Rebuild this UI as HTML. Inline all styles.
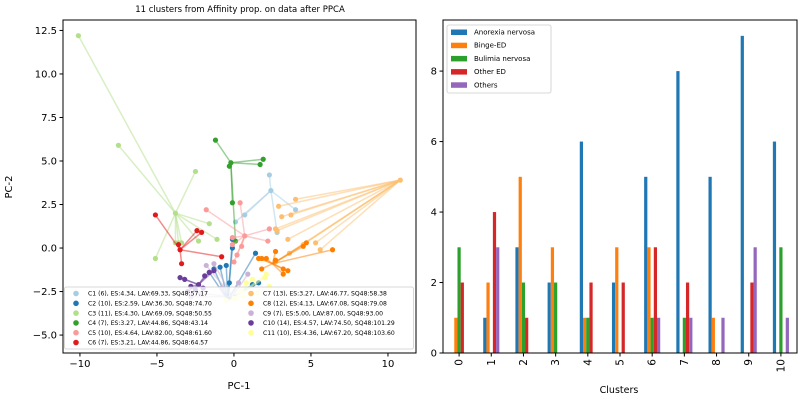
<!DOCTYPE html>
<html><head><meta charset="utf-8"><style>
body{margin:0;background:#fff;font-family:"Liberation Sans","DejaVu Sans",sans-serif}
svg text{font-family:"DejaVu Sans","Liberation Sans",sans-serif}
</style></head><body>
<svg id="s" width="800" height="400" xmlns="http://www.w3.org/2000/svg"></svg>
<script>
const clusterColors=["#a6cee3","#1f78b4","#b2df8a","#33a02c","#fb9a99","#e31a1c","#fdbf6f","#ff7f00","#cab2d6","#6a3d9a","#ffff99"];
const clusterLabels=["C1 (6), ES:4.34, LAV:69.33, SQ48:57.17","C2 (10), ES:2.59, LAV:36.30, SQ48:74.70","C3 (11), ES:4.30, LAV:69.09, SQ48:50.55","C4 (7), ES:3.27, LAV:44.86, SQ48:43.14","C5 (10), ES:4.64, LAV:82.00, SQ48:61.60","C6 (7), ES:3.21, LAV:44.86, SQ48:64.57","C7 (13), ES:3.27, LAV:46.77, SQ48:58.38","C8 (12), ES:4.13, LAV:67.08, SQ48:79.08","C9 (7), ES:5.00, LAV:87.00, SQ48:93.00","C10 (14), ES:4.57, LAV:74.50, SQ48:101.29","C11 (10), ES:4.36, LAV:67.20, SQ48:103.60"];
const centers=[[2.4,3.3],[-0.4,-3.0],[-3.8,2.0],[-0.2,4.9],[0.7,0.7],[-3.5,-0.1],[10.8,3.9],[2.5,-0.9],[-0.1,-2.8],[-2.3,-2.1],[0,-2.9]];
const clusterPoints=[
[[2.3,4.2],[4.0,2.2],[2.8,0.9],[0.7,1.9],[0.1,1.5],[2.4,3.3]],
[[-0.1,0.5],[-0.1,0],[1.4,-0.3],[-0.9,-1.1],[-1.3,-1.2],[-0.5,-1.0],[1.6,-2.0],[1.2,-2.1],[-1.6,-1.4],[-0.3,-2.0]],
[[-10.1,12.2],[-7.5,5.9],[-2.5,4.4],[-1.6,1.4],[-1.1,0.5],[-5.1,-0.6],[-2.3,0.4],[-3.8,0.3],[-3.4,0.3],[-3.6,0.3],[-3.8,2.0]],
[[-1.2,6.2],[1.9,5.1],[1.7,4.8],[-0.3,4.7],[-0.1,2.6],[0.1,0.4],[-0.2,4.9]],
[[-1.8,2.2],[0.4,2.6],[2.3,1.1],[2.2,0.4],[-0.1,0.2],[0.5,0.1],[0.2,-0.4],[0,-0.8],[-0.1,0.6],[0.7,0.7]],
[[-5.1,1.9],[-2.4,1.0],[-2.1,0.9],[-0.8,-0.5],[-3.4,-0.9],[-3.6,0.2],[-3.5,-0.1]],
[[4.0,2.8],[2.9,2.4],[3.7,1.9],[3.1,1.8],[2.8,1.0],[2.7,1.1],[3.5,0.5],[4.5,0.2],[5.3,0.3],[5.6,-0.1],[3.6,-0.3],[2.7,-0.8],[10.8,3.9]],
[[6.4,-0.1],[4.7,0.3],[4.5,0.1],[2.7,-0.2],[1.6,-0.6],[1.8,-0.6],[2.1,-0.6],[2.7,-0.7],[1.8,-1.2],[3.2,-1.2],[3.5,-1.3],[3.2,-1.5]],
[[-1.8,-1.0],[-1.3,-0.9],[0.9,-1.5],[-2.2,-2.6],[0.3,-2.0],[-0.8,-2.3],[-2.8,-2.8]],
[[-3.5,-1.7],[-3.2,-1.8],[-2.8,-2.2],[-1.6,-1.4],[-1.3,-1.3],[-2.0,-2.3],[-2.5,-2.4],[-3.0,-2.5],[-1.9,-1.6],[-2.3,-2.1]],
[[1.2,-1.8],[2.1,-1.5],[2.3,-2.2],[0.5,-2.5],[1.0,-3.2],[-0.5,-3.0],[1.5,-2.6],[0.8,-2.0],[2.0,-1.7],[0,-2.9]]];
const xTicks=[-10,-5,0,5,10];
const yTicks=[-5,-2.5,0,2.5,5,7.5,10,12.5];
const yTickLabels=["−5.0","−2.5","0.0","2.5","5.0","7.5","10.0","12.5"];
const categories=["0","1","2","3","4","5","6","7","8","9","10"];
const seriesNames=["Anorexia nervosa","Binge-ED","Bulimia nervosa","Other ED","Others"];
const seriesColors=["#1f77b4","#ff7f0e","#2ca02c","#d62728","#9467bd"];
const anorexia=[0,1,3,2,6,2,5,8,5,9,6];
const binge=[1,2,5,3,1,3,3,0,1,0,0];
const bulimia=[3,0,2,2,1,0,1,1,0,0,3];
const otherED=[2,4,1,0,2,2,3,2,0,2,0];
const others=[0,3,0,0,0,0,1,1,1,3,1];
const barTicks=[0,2,4,6,8];

const S=document.getElementById('s');const NS="http://www.w3.org/2000/svg";
function mk(t,a,p){const e=document.createElementNS(NS,t);for(const k in a)e.setAttribute(k,a[k]);(p||S).appendChild(e);return e;}
function tx(x,y,s,o){const e=mk('text',Object.assign({x:x,y:y,'font-size':10,fill:'#000'},o||{}));e.textContent=s;return e;}
// left axes
const L={x0:63,x1:416,y0:20,y1:353,xmin:-11.1,xmax:11.82,ymin:-6.03,ymax:13.1};
const sx=v=>L.x0+(v-L.xmin)/(L.xmax-L.xmin)*(L.x1-L.x0);
const sy=v=>L.y1-(v-L.ymin)/(L.ymax-L.ymin)*(L.y1-L.y0);
const gL=mk('g',{});
clusterPoints.forEach((pts,i)=>{const g=mk('g',{},gL);
 pts.forEach(p=>{const l=mk('line',{x1:sx(centers[i][0]),y1:sy(centers[i][1]),x2:sx(p[0]),y2:sy(p[1]),stroke:clusterColors[i],'stroke-width':1.5,'stroke-opacity':0.5},g);});
 pts.forEach(p=>{const c=mk('circle',{cx:sx(p[0]),cy:sy(p[1]),r:2.6,fill:clusterColors[i]},g);});
});
mk('rect',{x:L.x0,y:L.y0,width:L.x1-L.x0,height:L.y1-L.y0,fill:'none',stroke:'#000','stroke-width':1});
xTicks.forEach(v=>{mk('line',{x1:sx(v),x2:sx(v),y1:L.y1,y2:L.y1+3.5,stroke:'#000'});const t=tx(sx(v),L.y1+14,v<0?'−'+(-v):''+v,{'text-anchor':'middle'});});
yTicks.forEach((v,i)=>{mk('line',{x1:L.x0-3.5,x2:L.x0,y1:sy(v),y2:sy(v),stroke:'#000'});const t=tx(L.x0-6,sy(v)+3.5,yTickLabels[i],{'text-anchor':'end'});});
let t=tx(240,12,"11 clusters from Affinity prop. on data after PPCA",{'text-anchor':'middle','font-size':8.5});
t=tx(239,389,"PC-1",{'text-anchor':'middle'});
t=tx(0,0,"PC-2",{'text-anchor':'middle',transform:'translate(12,187) rotate(-90)'});
const lg=mk('g',{});
mk('rect',{x:64.5,y:287,width:349,height:62,fill:'#fff','fill-opacity':0.8,stroke:'#ccc','stroke-width':0.8,rx:2},lg);
clusterLabels.forEach((s,i)=>{const col=i<6?0:1,row=i<6?i:i-6;const x=col?251:76,y=293.5+row*9.8;
 const e=mk('g',{},lg);
 mk('circle',{cx:x,cy:y,r:2.8,fill:clusterColors[i]},e);tx(x+12,y+2.2,s,{'font-size':6.1},e);});
// right bar chart
const R={x0:443,x1:797,y0:20,y1:353,ymax:9.45};
const n=categories.length;const bx=i=>R.x0+(i+0.5)/n*(R.x1-R.x0);
const by=v=>R.y1-v/R.ymax*(R.y1-R.y0);
const cw=(R.x1-R.x0)/n;const bw=cw*0.5/5;
const all=[anorexia,binge,bulimia,otherED,others];
const gR=mk('g',{});
all.forEach((arr,s)=>arr.forEach((v,i)=>{const r=mk('rect',{x:bx(i)-cw*0.25+s*bw,y:by(v),width:bw,height:by(0)-by(v),fill:seriesColors[s]},gR);}));
mk('rect',{x:R.x0,y:R.y0,width:R.x1-R.x0,height:R.y1-R.y0,fill:'none',stroke:'#000'});
barTicks.forEach(v=>{mk('line',{x1:R.x0-3.5,x2:R.x0,y1:by(v),y2:by(v),stroke:'#000'});const t=tx(R.x0-6,by(v)+3.5,''+v,{'text-anchor':'end'});});
categories.forEach((c,i)=>{mk('line',{x1:bx(i),x2:bx(i),y1:R.y1,y2:R.y1+3.5,stroke:'#000'});const t=tx(0,0,c,{'text-anchor':'end',transform:`translate(${bx(i)+3.5},${R.y1+6}) rotate(-90)`,'font-size':10.5});});
t=tx(619,393,"Clusters",{'text-anchor':'middle','font-size':9.5});
const lg2=mk('g',{});
mk('rect',{x:447,y:25,width:104,height:68,fill:'#fff','fill-opacity':0.8,stroke:'#ccc','stroke-width':0.8,rx:2},lg2);
seriesNames.forEach((s,i)=>{const y=32+i*13.2;const e=mk('g',{},lg2);
 mk('rect',{x:451,y:y-2.5,width:16,height:5.5,fill:seriesColors[i]},e);tx(474,y+2.5,s,{'font-size':7},e);});
</script>
</body></html>
